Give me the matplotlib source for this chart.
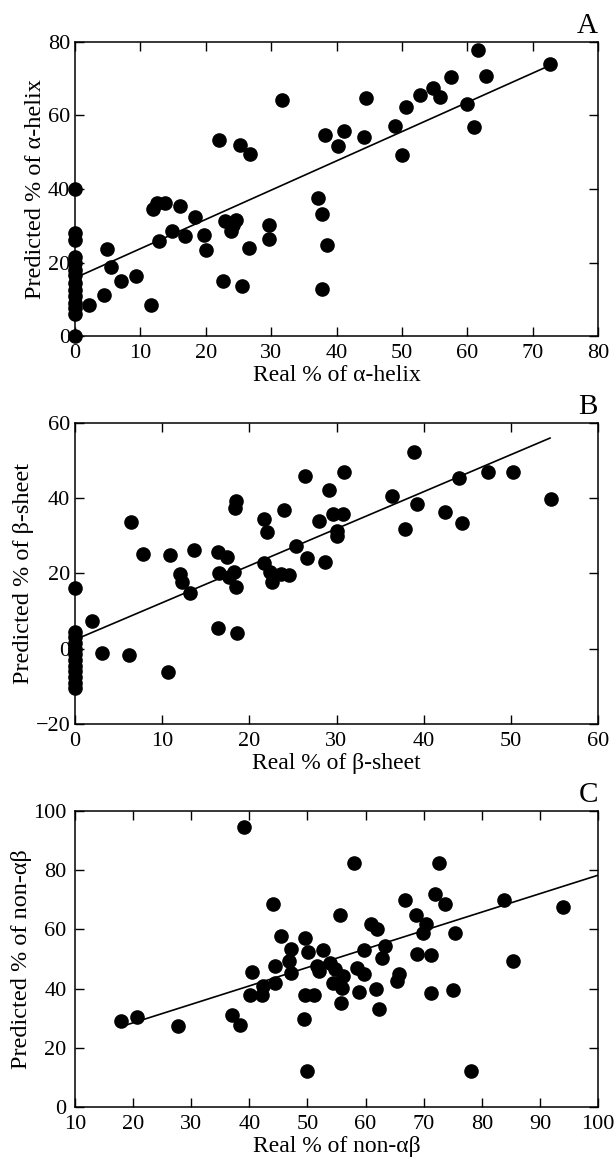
import matplotlib
matplotlib.use("Agg")
import matplotlib.pyplot as plt

# ---------------- Panel A: alpha-helix ----------------
a_real = [0, 0, 0, 0, 0, 0, 0, 0, 0, 0, 0, 0, 0, 0,
          2.2, 4.5, 4.9, 5.5, 7.0, 9.4, 11.6, 12.0, 12.5, 13.8, 12.9, 14.9,
          16.1, 16.9, 18.4, 19.7, 20.0, 22.0, 22.7, 23.0, 23.8, 24.2, 24.7,
          25.3, 25.5, 26.6, 26.8, 29.7, 29.7, 31.6, 37.1, 37.8, 37.8, 38.2,
          38.5, 40.2, 41.2, 44.2, 44.5, 48.9, 50.0, 50.7, 52.8, 54.8, 55.8,
          57.5, 59.9, 61.1, 61.6, 62.9, 72.6]
a_pred = [40, 28, 26, 21.5, 20, 18, 16.5, 14.5, 12.5, 11, 9, 7.5, 6, 0,
          8.3, 11.1, 23.7, 18.7, 14.9, 16.3, 8.3, 34.5, 36.2, 36.2, 25.9, 28.7,
          35.5, 27.1, 32.3, 27.6, 23.5, 53.2, 14.9, 31.2, 28.5, 30.3, 31.5,
          52.0, 13.6, 24.0, 49.5, 30.1, 26.4, 64.2, 37.5, 33.2, 12.7, 54.7,
          24.7, 51.8, 55.9, 54.1, 64.8, 57.1, 49.3, 62.4, 65.6, 67.4, 65.1,
          70.5, 63.1, 56.8, 77.8, 70.8, 73.9]
a_fit_x = [0, 72.6]
a_fit_y = [15.8, 73.6]

# ---------------- Panel B: beta-sheet ----------------
b_real = [0, 0, 0, 0, 0, 0, 0, 0, 0, 0, 0, 0,
          2.0, 3.1, 6.2, 6.4, 7.8, 10.7, 10.9, 12.0, 12.3, 13.2, 13.7, 16.4,
          16.5, 16.4, 17.4, 17.7, 18.2, 18.5, 18.5, 18.3, 18.6, 21.7, 22.0,
          21.7, 22.4, 22.6, 23.6, 24.6, 24.0, 25.3, 26.4, 26.6, 28.0, 28.7,
          29.1, 29.6, 30.8, 30.1, 30.0, 30.9, 36.4, 37.9, 38.9, 39.2, 42.4,
          44.0, 44.4, 47.4, 50.3, 54.6]
b_pred = [16.2, 4.5, 3, 1.5, 0, -1.5, -3, -4.5, -6, -7.5, -9, -10.5,
          7.4, -1.1, -1.75, 33.7, 25.1, -6.2, 24.8, 19.8, 17.8, 14.8, 26.3, 25.7,
          20.0, 5.6, 24.5, 19.1, 20.4, 16.4, 39.3, 37.5, 4.3, 34.6, 31.0,
          22.7, 20.4, 17.8, 19.8, 19.6, 36.9, 27.2, 45.9, 24.0, 33.9, 23.0,
          42.2, 35.7, 35.7, 31.2, 29.9, 47.1, 40.7, 31.7, 52.4, 38.4, 36.4,
          45.4, 33.5, 47.1, 47.1, 39.8]
b_fit_x = [0, 54.5]
b_fit_y = [2.4, 56.0]

# ---------------- Panel C: non-alpha-beta ----------------
c_real = [17.9, 20.7, 27.7, 37.1, 38.4, 39.0, 40.4, 40.1, 42.2, 42.3, 44.1,
          44.4, 44.4, 45.5, 46.9, 47.2, 47.2, 49.4, 49.6, 49.6, 50.1, 51.1,
          51.7, 52.0, 52.6, 53.9, 54.4, 54.7, 55.6, 55.8, 55.9, 56.1, 58.0,
          58.5, 58.9, 59.7, 59.8, 60.9, 62.0, 61.8, 62.3, 62.9, 63.4, 65.4,
          65.7, 66.8, 68.6, 68.9, 69.8, 70.4, 71.3, 71.3, 71.9, 72.7, 73.6,
          75.1, 75.4, 83.9, 85.4, 93.9, 50.0, 78.1]
c_pred = [29.0, 30.5, 27.3, 31.0, 27.7, 94.6, 45.7, 38.0, 37.8, 40.8, 68.5,
          47.6, 42.0, 57.7, 49.3, 53.5, 45.4, 29.8, 57.2, 38.0, 52.3, 37.8,
          47.6, 45.9, 53.2, 48.5, 42.0, 46.5, 64.7, 35.2, 40.3, 44.2, 82.5,
          47.0, 38.8, 45.1, 52.9, 61.7, 60.0, 39.7, 33.0, 50.4, 54.4, 42.5,
          45.1, 70.1, 64.7, 51.8, 58.9, 61.7, 51.2, 38.4, 71.8, 82.5, 68.5,
          39.4, 58.9, 70.1, 49.3, 67.7, 12.3, 12.3]
c_fit_x = [18.8, 100]
c_fit_y = [27.7, 78.3]

panels = [
    dict(real=a_real, pred=a_pred, fx=a_fit_x, fy=a_fit_y, letter="A",
         xlim=(0, 80), ylim=(0, 80), xt=range(0, 81, 10), yt=range(0, 81, 20),
         xlabel="Real % of α-helix", ylabel="Predicted % of α-helix",
         rect=[75, 42, 598, 336], ypad=3.5),
    dict(real=b_real, pred=b_pred, fx=b_fit_x, fy=b_fit_y, letter="B",
         xlim=(0, 60), ylim=(-20, 60), xt=range(0, 61, 10), yt=range(-20, 61, 20),
         xlabel="Real % of β-sheet", ylabel="Predicted % of β-sheet",
         rect=[75, 423, 598, 724], ypad=3.5),
    dict(real=c_real, pred=c_pred, fx=c_fit_x, fy=c_fit_y, letter="C",
         xlim=(10, 100), ylim=(0, 100), xt=range(10, 101, 10), yt=range(0, 101, 20),
         xlabel="Real % of non-αβ", ylabel="Predicted % of non-αβ",
         rect=[75, 811, 598, 1107], ypad=6),
]

W, H = 616, 1165
plt.rcParams["font.family"] = ["Liberation Serif", "DejaVu Serif"]
fig = plt.figure(figsize=(W / 100, H / 100), dpi=100)
fig.patch.set_facecolor("white")

for p in panels:
    l, t, r, b = p["rect"]
    ax = fig.add_axes([l / W, 1 - b / H, (r - l) / W, (b - t) / H])
    ax.plot(p["fx"], p["fy"], color="black", lw=1.2, zorder=2)
    ax.plot(p["real"], p["pred"], "o", color="black", ms=9.5, mec="black",
            clip_on=False, zorder=3)
    ax.set_xlim(*p["xlim"])
    ax.set_ylim(*p["ylim"])
    ax.set_xticks(list(p["xt"]))
    ax.set_yticks(list(p["yt"]))
    ax.tick_params(direction="in", top=True, right=True, length=6.5,
                   width=1.0, labelsize=16)
    ax.tick_params(axis="x", pad=6)
    ax.tick_params(axis="y", pad=p["ypad"])
    for s in ax.spines.values():
        s.set_linewidth(1.1)
    ax.set_xlabel(p["xlabel"], fontsize=17, labelpad=1)
    ax.set_ylabel(p["ylabel"], fontsize=17.5, labelpad=1)
    ax.text(1.0, 1.01, p["letter"], transform=ax.transAxes, ha="right",
            va="bottom", fontsize=21)

fig.savefig("out.png", dpi=100, facecolor="white")
